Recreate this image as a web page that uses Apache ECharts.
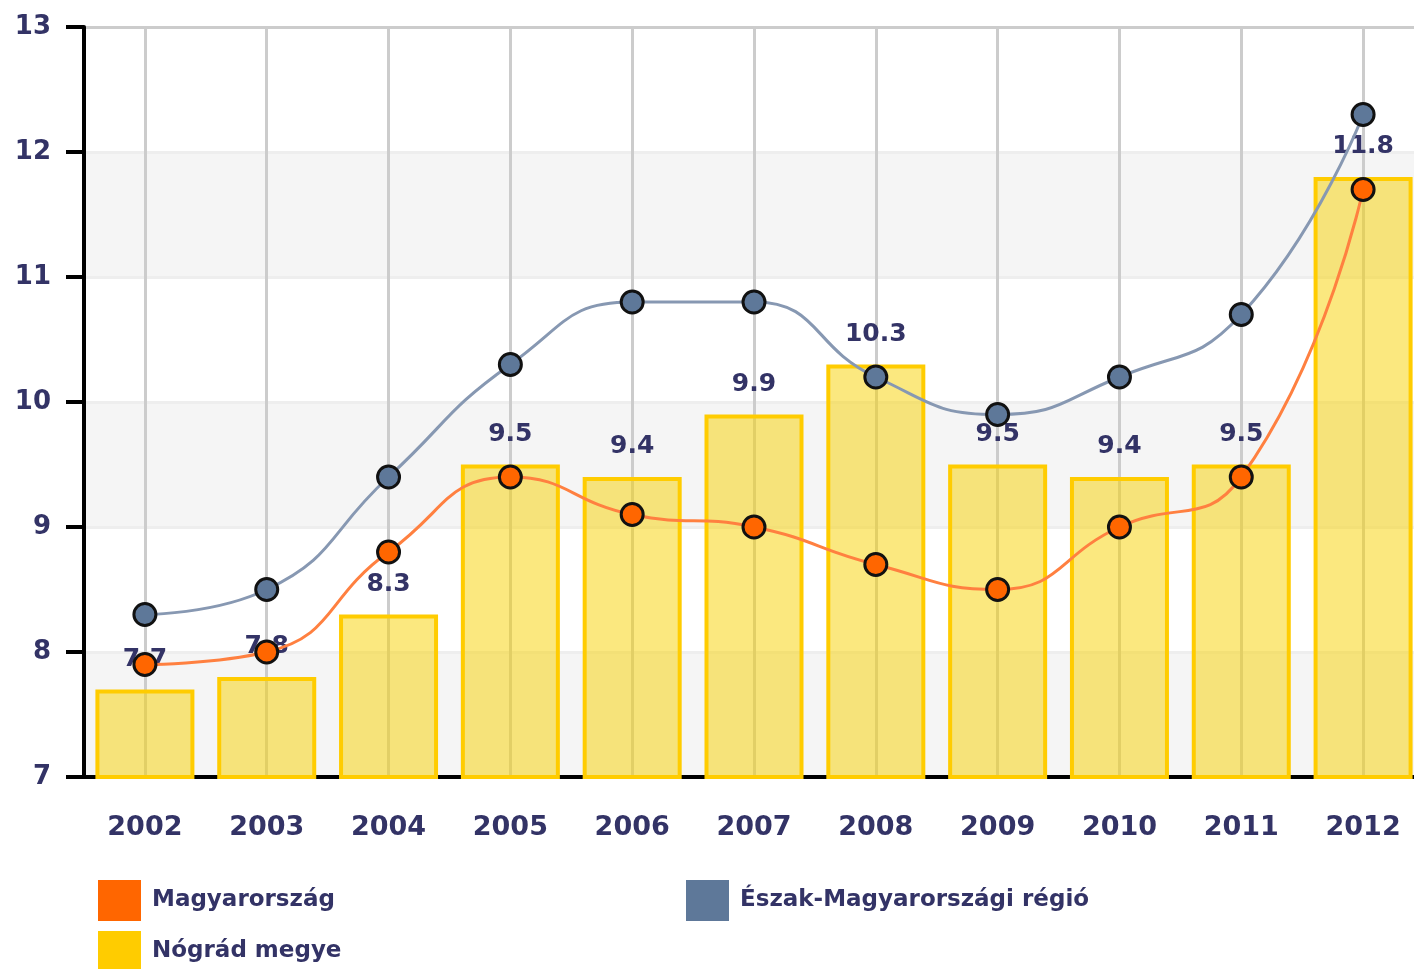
<!DOCTYPE html>
<html><head><meta charset="utf-8">
<script src="https://cdn.jsdelivr.net/npm/echarts@6/dist/echarts.min.js"></script>
<style>html,body{margin:0;padding:0;background:#fff}#c{width:1414px;height:969px}</style>
</head><body><div id="c"></div>
<script>
const years = ['2002','2003','2004','2005','2006','2007','2008','2009','2010','2011','2012'];
const nogradValues = [7.7, 7.8, 8.3, 9.5, 9.4, 9.9, 10.3, 9.5, 9.4, 9.5, 11.8];
const magyarorszagValues = [7.9, 8.0, 8.8, 9.4, 9.1, 9.0, 8.7, 8.5, 9.0, 9.4, 11.7];
const eszakValues = [8.3, 8.5, 9.4, 10.3, 10.8, 10.8, 10.2, 9.9, 10.2, 10.7, 12.3];
const seriesNames = ['Magyarország', 'Észak-Magyarországi régió', 'Nógrád megye'];
const yMin = 7, yMax = 13, yStep = 1;

const txt = '#333366';
const font = 'DejaVu Sans';
const legendText = {fontSize: 23, fontWeight: 'bold', color: txt, fontFamily: font, padding: [0,0,0,6]};
function legend(name, color, left, top) {
  return {
    data: [{name: name, itemStyle: {color: color, borderWidth: 0}}],
    left: left, top: top, padding: 0, icon: 'rect',
    itemWidth: 43, itemHeight: 41, textStyle: legendText, selectedMode: false
  };
}
const chart = echarts.init(document.getElementById('c'));
chart.setOption({
  animation: false,
  backgroundColor: '#fff',
  grid: {left: 84, width: 1340, top: 27, bottom: 192, containLabel: false, outerBoundsMode: 'none'},
  legend: [
    legend(seriesNames[0], '#FF6600', 98, 880),
    legend(seriesNames[1], '#5E7899', 686, 880),
    legend(seriesNames[2], '#FFCC00', 98, 931)
  ],
  xAxis: {
    type: 'category', data: years, boundaryGap: true,
    axisLine: {lineStyle: {color: '#000', width: 4}},
    axisTick: {alignWithLabel: true, length: 13, lineStyle: {color: '#000', width: 4}},
    axisLabel: {margin: 37, fontSize: 27, fontWeight: 'bold', color: txt, fontFamily: font},
    splitLine: {show: true, alignWithLabel: true, lineStyle: {color: '#cccccc', width: 3}}
  },
  yAxis: {
    type: 'value', min: yMin, max: yMax, interval: yStep,
    axisLine: {show: true, lineStyle: {color: '#000', width: 4}},
    axisTick: {show: true, length: 18, lineStyle: {color: '#000', width: 4}},
    axisLabel: {margin: 33, fontSize: 26, fontWeight: 'bold', color: txt, fontFamily: font, padding: [0,0,10,0]},
    splitLine: {show: true, lineStyle: {color: ['#eeeeee','#eeeeee','#eeeeee','#eeeeee','#eeeeee','#eeeeee','#cccccc'], width: 3}},
    splitArea: {show: true, areaStyle: {color: ['#f5f5f5', '#ffffff']}}
  },
  series: [
    {
      name: seriesNames[2], type: 'bar', data: nogradValues, barWidth: 99,
      itemStyle: {color: 'rgba(248,210,0,0.5)', borderColor: '#FFCC00', borderWidth: 4},
      label: {show: true, position: 'top', distance: 18, fontSize: 25, fontWeight: 'bold', color: txt, fontFamily: font},
      z: 2
    },
    {
      name: seriesNames[1], type: 'line', data: eszakValues, smooth: 0.5,
      symbol: 'circle', symbolSize: 22,
      lineStyle: {color: '#8798b2', width: 3},
      itemStyle: {color: '#5E7899', borderColor: '#111', borderWidth: 3},
      z: 3
    },
    {
      name: seriesNames[0], type: 'line', data: magyarorszagValues, smooth: 0.5,
      symbol: 'circle', symbolSize: 22,
      lineStyle: {color: '#FF8040', width: 3},
      itemStyle: {color: '#FF6600', borderColor: '#111', borderWidth: 3},
      z: 4
    }
  ]
});
</script></body></html>
